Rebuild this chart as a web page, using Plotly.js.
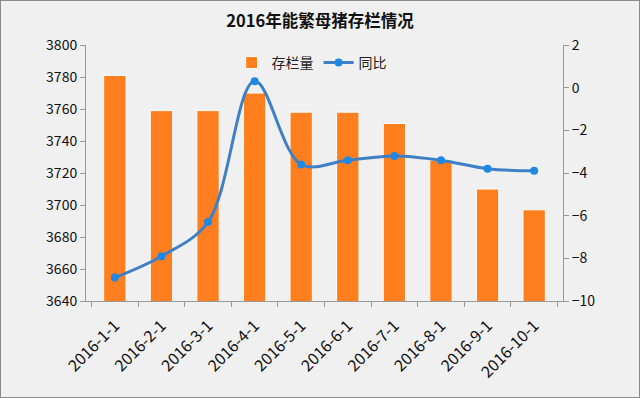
<!DOCTYPE html>
<html>
<head>
<meta charset="utf-8">
<script src="https://cdn.plot.ly/plotly-3.0.1.min.js"></script>
<style>
html,body{margin:0;padding:0;background:#f0f0f0;}
#wrap{position:relative;width:640px;height:398px;}
#chart{width:640px;height:398px;}
#frame{position:absolute;left:0;top:0;width:638px;height:396px;border:1px solid #8c8c8c;pointer-events:none;}
</style>
</head>
<body>
<div id="wrap"><div id="chart"></div><div id="frame"></div></div>
<script>
const categories = ["2016-1-1","2016-2-1","2016-3-1","2016-4-1","2016-5-1","2016-6-1","2016-7-1","2016-8-1","2016-9-1","2016-10-1"];
const stockValues = [3781, 3759, 3759, 3770, 3758, 3758, 3751, 3728, 3710, 3697];
const yoyValues = [-8.9, -7.9, -6.3, 0.3, -3.6, -3.4, -3.2, -3.4, -3.8, -3.9];
const leftTicks = [3640, 3660, 3680, 3700, 3720, 3740, 3760, 3780, 3800];
const rightTicks = [-10, -8, -6, -4, -2, 0, 2];

const font = "Noto Sans CJK SC, Microsoft YaHei, sans-serif";

const traces = [
  {
    type: 'bar', name: '存栏量', x: categories, y: stockValues,
    marker: {color: '#FF7F1F', line: {color: '#ffffff', width: 1}},
    yaxis: 'y'
  },
  {
    type: 'scatter', mode: 'lines+markers', name: '同比', x: categories, y: yoyValues,
    line: {color: '#3F7FC6', width: 3, shape: 'spline', smoothing: 1},
    marker: {color: '#1E88E5', size: 8},
    yaxis: 'y2'
  }
];

const layout = {
  width: 640, height: 398,
  paper_bgcolor: '#f0f0f0', plot_bgcolor: 'rgba(0,0,0,0)',
  margin: {l: 86, r: 77, t: 45, b: 97, autoexpand: false},
  font: {family: font, color: '#222', size: 13},
  title: {text: '<b>2016年能繁母猪存栏情况</b>', x: 0.5, xanchor: 'center', y: 0.947, yanchor: 'middle',
          font: {family: font, size: 16.5, color: '#111'}},
  showlegend: true,
  legend: {orientation: 'h', x: 0.473, xanchor: 'center', y: 0.93, yanchor: 'middle',
           bgcolor: 'rgba(0,0,0,0)', font: {family: font, size: 14, color: '#222'}},
  bargap: 0.52,
  xaxis: {
    type: 'category', tickangle: -45, showgrid: false, showline: true, linecolor: '#999', linewidth: 1,
    ticks: 'outside', tickson: 'boundaries', ticklen: 5, tickcolor: '#999', automargin: false,
    ticklabelstandoff: 8,
    tickfont: {family: font, size: 16, color: '#111'}
  },
  yaxis: {
    range: [3640, 3800], tickvals: leftTicks, showgrid: false, zeroline: false, automargin: false,
    showline: true, linecolor: '#999', linewidth: 1, ticks: 'outside', ticklen: 5, tickcolor: '#999',
    tickfont: {family: font, size: 14, color: '#111'}
  },
  yaxis2: {
    overlaying: 'y', side: 'right', range: [-10, 2], tickvals: rightTicks, showgrid: false, zeroline: false,
    automargin: false,
    showline: true, linecolor: '#999', linewidth: 1, ticks: 'outside', ticklen: 5, tickcolor: '#999',
    tickfont: {family: font, size: 14, color: '#111'}
  }
};

Plotly.newPlot('chart', traces, layout, {displayModeBar: false, staticPlot: true});
</script>
</body>
</html>
